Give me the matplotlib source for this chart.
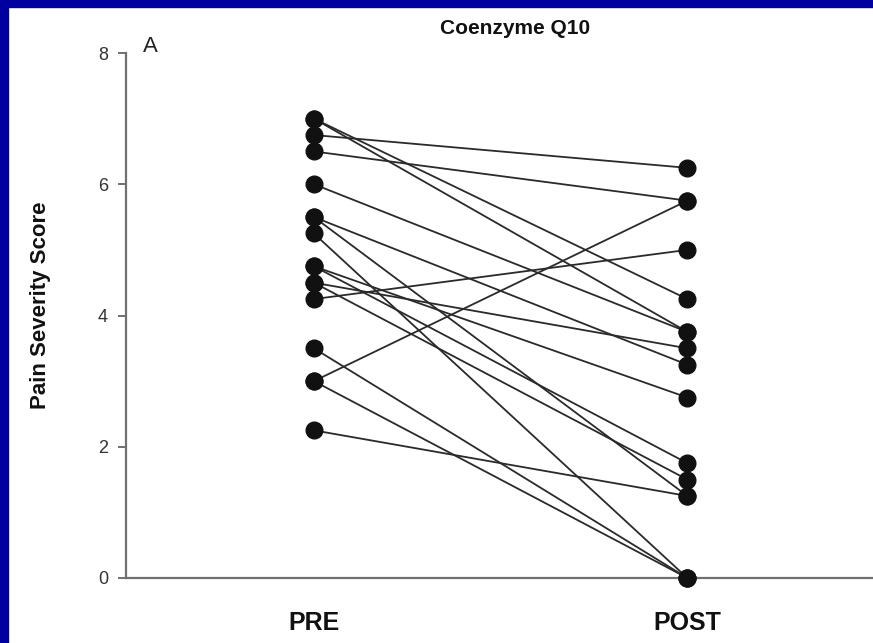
import matplotlib
matplotlib.use("Agg")
import matplotlib.pyplot as plt
from matplotlib.patches import Rectangle

# Paired pain severity scores (one entry per subject)
pre_scores = [7.0, 7.0, 6.75, 6.5, 6.0, 5.5, 5.5, 5.25, 4.75, 4.75, 4.5, 4.5, 4.25, 3.5, 3.0, 3.0, 2.25]
post_scores = [4.25, 3.75, 6.25, 5.75, 3.75, 3.25, 1.25, 0.0, 2.75, 1.75, 3.5, 1.5, 5.0, 0.0, 5.75, 0.0, 1.25]
time_labels = ["PRE", "POST"]
y_ticks = [0, 2, 4, 6, 8]

plt.rcParams['font.family'] = ['Liberation Sans', 'DejaVu Sans']

fig = plt.figure(figsize=(8.73, 6.43), dpi=100)
fig.patch.set_facecolor("white")

# Dark blue frame on top and left edges
fig.patches.append(Rectangle((0, 1 - 7 / 643), 1, 7 / 643, transform=fig.transFigure,
                             color="#0000A0", zorder=10))
fig.patches.append(Rectangle((0, 0), 8 / 873, 1, transform=fig.transFigure,
                             color="#0000A0", zorder=10))

ax = fig.add_axes([126 / 873, 65 / 643, 1 - 126 / 873, 525 / 643])

xs = [1, 2]
for a, b in zip(pre_scores, post_scores):
    ax.plot(xs, [a, b], color="#2a2a2a", lw=1.3, zorder=2, solid_capstyle="round")
    ax.plot(xs, [a, b], linestyle="none", marker="o", ms=12, color="#111111",
            zorder=3, clip_on=False)

ax.set_xlim(0.497, 2.497)
ax.set_ylim(0, 8)

for s in ("top", "right"):
    ax.spines[s].set_visible(False)
for s in ("left", "bottom"):
    ax.spines[s].set_color("#707070")
    ax.spines[s].set_linewidth(1.6)

ax.set_yticks(y_ticks)
ax.set_yticklabels([str(t) for t in y_ticks], fontsize=13, color="#333333")
ax.tick_params(axis="y", direction="out", length=6, width=1.4, color="#707070", pad=7)

ax.set_xticks(xs)
ax.set_xticklabels(time_labels, fontsize=18, fontweight="bold", color="#111111")
ax.tick_params(axis="x", length=0, pad=24)

ax.set_ylabel("Pain Severity Score", fontsize=16, fontweight="bold", color="#111111")
ax.yaxis.set_label_coords(-0.101, 0.52)

fig.text(515 / 873, 1 - 28 / 643, "Coenzyme Q10", ha="center", va="center",
         fontsize=15, fontweight="bold", color="#111111")
fig.text(150 / 873, 1 - 46 / 643, "A", ha="center", va="center", fontsize=16, color="#222222")

fig.savefig("out.png", dpi=100, facecolor="white")
